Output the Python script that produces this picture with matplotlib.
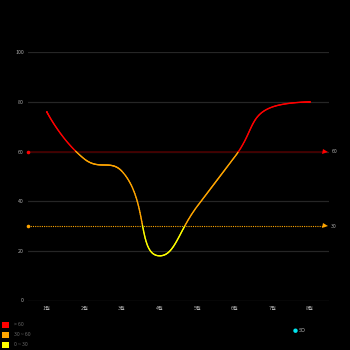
import numpy as np
import matplotlib
matplotlib.use("Agg")
import matplotlib.pyplot as plt
from matplotlib.collections import LineCollection
from matplotlib.patches import Rectangle, Circle

plt.rcParams['font.family'] = ['Noto Sans CJK KR', 'DejaVu Sans']

categories = ['1월', '2월', '3월', '4월', '5월', '6월', '7월', '8월']
values = [76, 57, 52, 18, 38, 58, 78, 80]
y_ticks = [0, 20, 40, 60, 80, 100]
mark_values = [60, 30]
mark_colors = ['#ff0000', '#ffa500']
pieces = [('> 60', '#ff0000'), ('30 ~ 60', '#ffa500'), ('0 ~ 30', '#ffff00')]
series_name = 'SO'

W, H = 350, 350
X0, X1, Y0, Y1 = 28, 329, 300.5, 52.3
PX_X = (X1 - X0) / len(categories)
PX_Y = (Y0 - Y1) / 100.0


def smooth_curve(vals, smooth=0.5, n=60):
    # ECharts-like bezier smoothing computed in pixel space
    px = [i * PX_X for i in range(len(vals))]
    py = [v * PX_Y for v in vals]
    N = len(vals)
    cp_prev = [None] * N  # control point before point i
    cp_next = [None] * N  # control point after point i
    for i in range(N):
        x, y = px[i], py[i]
        if i == 0 or i == N - 1:
            cp_prev[i] = (x, y); cp_next[i] = (x, y)
            continue
        prevX, prevY = px[i - 1], py[i - 1]
        nextX, nextY = px[i + 1], py[i + 1]
        vx, vy = nextX - prevX, nextY - prevY
        lp = np.hypot(x - prevX, y - prevY)
        ln = np.hypot(nextX - x, nextY - y)
        r = ln / (ln + lp)
        ncx = x + vx * smooth * r
        ncy = y + vy * smooth * r
        ncx = min(ncx, max(nextX, x)); ncy = min(ncy, max(nextY, y))
        ncx = max(ncx, min(nextX, x)); ncy = max(ncy, min(nextY, y))
        vx, vy = ncx - x, ncy - y
        c1x = x - vx * lp / ln; c1y = y - vy * lp / ln
        c1x = min(c1x, max(prevX, x)); c1y = min(c1y, max(prevY, y))
        c1x = max(c1x, min(prevX, x)); c1y = max(c1y, min(prevY, y))
        vx, vy = x - c1x, y - c1y
        ncx = x + vx * ln / lp; ncy = y + vy * ln / lp
        cp_prev[i] = (c1x, c1y); cp_next[i] = (ncx, ncy)
    xs, ys = [], []
    t = np.linspace(0, 1, n)
    for i in range(N - 1):
        p0 = np.array([px[i], py[i]]); p1 = np.array(cp_next[i])
        p2 = np.array(cp_prev[i + 1]); p3 = np.array([px[i + 1], py[i + 1]])
        b = ((1 - t) ** 3)[:, None] * p0 + (3 * (1 - t) ** 2 * t)[:, None] * p1 \
            + (3 * (1 - t) * t ** 2)[:, None] * p2 + (t ** 3)[:, None] * p3
        if i > 0:
            b = b[1:]
        xs.extend(b[:, 0] / PX_X); ys.extend(b[:, 1] / PX_Y)
    return np.array(xs), np.array(ys)


fig = plt.figure(figsize=(3.5, 3.5), dpi=100)
fig.patch.set_facecolor('black')
ax = fig.add_axes([X0 / W, 1 - Y0 / H, (X1 - X0) / W, (Y0 - Y1) / H])
ax.set_facecolor('black')
ax.set_xlim(-0.5, len(categories) - 0.5)
ax.set_ylim(0, 100)

for s in ax.spines.values():
    s.set_visible(False)

for t in y_ticks:
    ax.axhline(t, color='#333333' if t == 0 else '#262626', lw=0.9, zorder=1)

ax.set_yticks(y_ticks)
ax.set_yticklabels([str(t) for t in y_ticks])
ax.set_xticks(range(len(categories)))
ax.set_xticklabels(categories)
ax.tick_params(axis='both', length=0, colors='#aaaaaa', labelsize=3.8)
ax.tick_params(axis='y', pad=3)
ax.tick_params(axis='x', pad=4)

# smooth line, coloured by piece
xs, ys = smooth_curve(values)
pts = np.column_stack([xs, ys]).reshape(-1, 1, 2)
segs = np.concatenate([pts[:-1], pts[1:]], axis=1)
mid = (ys[:-1] + ys[1:]) / 2
cols = [pieces[0][1] if v > 60 else (pieces[1][1] if v > 30 else pieces[2][1]) for v in mid]
lc = LineCollection(segs, colors=cols, linewidths=1.0, zorder=4, capstyle='round')
ax.add_collection(lc)

# mark lines
x_end = 7.4
ax.plot([-0.5, x_end], [60, 60], color='#450000', lw=1.3, zorder=3, solid_capstyle='butt')
ax.plot([-0.5, x_end], [30, 30], color=mark_colors[1], lw=0.8, ls=(0, (1, 1)), zorder=3)
for v, c in zip(mark_values, mark_colors):
    ax.plot([-0.5], [v], 'o', color=c, ms=2.6, mew=0, zorder=5, clip_on=False)
    ax.plot([x_end], [v], '>', color=c, ms=3.6, mew=0, zorder=5, clip_on=False)
    ax.text(x_end + 0.16, v, str(v), color='#aaaaaa', fontsize=3.8, va='center', ha='left')

# piecewise legend
for i, (lab, c) in enumerate(pieces):
    y0 = 322 + i * 10
    fig.patches.append(Rectangle((2 / W, 1 - (y0 + 5.5) / H), 7 / W, 5.5 / H,
                                 transform=fig.transFigure, facecolor=c, edgecolor='none'))
    fig.text(14 / W, 1 - (y0 + 2.8) / H, lab, color='#666666', fontsize=3.8, va='center', ha='left')

# series legend
fig.patches.append(Circle((295.5 / W, 1 - 330.7 / H), 2.2 / W,
                          transform=fig.transFigure, facecolor='#00e5ee', edgecolor='none'))
fig.text(299 / W, 1 - 330.7 / H, series_name, color='#aaaaaa', fontsize=3.8, va='center', ha='left')

fig.savefig('out.png', dpi=100, facecolor='black')
